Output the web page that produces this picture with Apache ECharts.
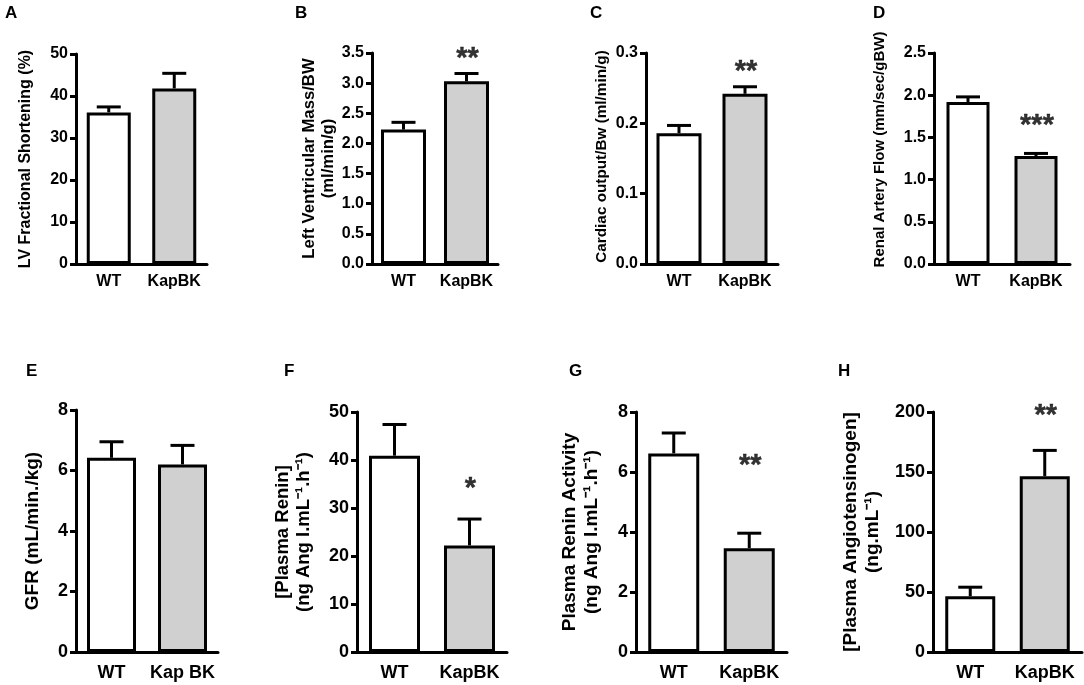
<!DOCTYPE html>
<html style="height: 100%">
<head>
  <meta charset="utf-8">
  <script type="text/javascript" src="https://cdn.jsdelivr.net/npm/echarts@6/dist/echarts.min.js"></script>
</head>
<body style="height: 100%; margin: 0; background: #fff">
  <div id="container" style="width: 1084px; height: 685px"></div>
  <script type="text/javascript">
    // panel data
    var letters = ['A', 'B', 'C', 'D', 'E', 'F', 'G', 'H'];
    var groups = ['WT', 'KapBK'];
    var groupsE = ['WT', 'Kap BK'];
    var yTitles = [
      'LV Fractional Shortening (%)',
      'Left Ventricular Mass/BW\n(ml/min/g)',
      'Cardiac output/Bw (ml/min/g)',
      'Renal Artery Flow (mm/sec/gBW)',
      'GFR (mL/min./kg)',
      '[Plasma Renin]\n(ng Ang I.mL\u207B\u00B9.h\u207B\u00B9)',
      'Plasma Renin Activity\n(ng Ang I.mL\u207B\u00B9.h\u207B\u00B9)',
      '[Plasma Angiotensinogen]\n(ng.mL\u207B\u00B9)'
    ];
    var yMax = [50, 3.5, 0.3, 2.5, 8, 50, 8, 200];
    var yStep = [10, 0.5, 0.1, 0.5, 2, 10, 2, 50];
    var yDecimals = [0, 1, 1, 1, 0, 0, 0, 0];
    var means = [
      [36.1, 41.8], [2.23, 3.03], [0.186, 0.242], [1.92, 1.28],
      [6.42, 6.20], [40.9, 22.2], [6.62, 3.46], [46.5, 146.5]
    ];
    var sems = [
      [1.3, 3.6], [0.12, 0.13], [0.011, 0.010], [0.06, 0.03],
      [0.53, 0.63], [6.5, 5.5], [0.68, 0.50], [7.5, 21.5]
    ];
    var stars = ['', '**', '**', '***', '', '*', '**', '**'];
    var starLevel = [null, 3.47, 0.279, 1.68, null, 34.8, 6.33, 200];

    // layout of each panel (pixels)
    var boxes = [
      { left: 76, top: 54, width: 131, height: 210, bar: 44, gap: 41, fs: 16, ts: 16, pad: 0, lx: 11, ly: 14 },
      { left: 372, top: 53, width: 126, height: 211, bar: 45, gap: 30, fs: 16, ts: 16.7, pad: 0, lx: 301, ly: 14 },
      { left: 646, top: 53, width: 132, height: 211, bar: 45, gap: 35, fs: 16, ts: 15.3, pad: 4, lx: 596, ly: 14 },
      { left: 934, top: 53, width: 136, height: 211, bar: 43, gap: 46, fs: 16, ts: 15, pad: 18, lx: 879, ly: 14 },
      { left: 76, top: 410, width: 142, height: 242, bar: 49, gap: 32, fs: 18, ts: 19, pad: 0, lx: 32, ly: 372 },
      { left: 357, top: 412, width: 150, height: 240, bar: 51, gap: 43, fs: 18, ts: 18.5, pad: 0, lx: 290, ly: 372 },
      { left: 636, top: 412, width: 151, height: 240, bar: 51, gap: 33, fs: 18, ts: 19, pad: 0, lx: 575, ly: 372 },
      { left: 933, top: 412, width: 149, height: 240, bar: 50, gap: 49, fs: 18, ts: 19, pad: 0, lx: 844, ly: 372 }
    ];

    var FONT = 'Liberation Sans';
    var capHalf = 12;

    function errItem(params, api) {
      var x = api.value(0), m = api.value(1), s = api.value(2);
      var p0 = api.coord([x, m]);
      var p1 = api.coord([x, m + s]);
      return {
        type: 'group',
        children: [
          { type: 'line', shape: { x1: p0[0], y1: p0[1], x2: p1[0], y2: p1[1] }, style: { stroke: '#000', lineWidth: 3 } },
          { type: 'line', shape: { x1: p1[0] - capHalf, y1: p1[1], x2: p1[0] + capHalf, y2: p1[1] }, style: { stroke: '#000', lineWidth: 3 } }
        ]
      };
    }

    var grid = [], xAxis = [], yAxis = [], series = [], graphic = [];
    letters.forEach(function (L, i) {
      var b = boxes[i];
      grid.push({ left: b.left, top: b.top, width: b.width, height: b.height, containLabel: false });
      xAxis.push({
        gridIndex: i, type: 'category', data: i === 4 ? groupsE : groups,
        axisLine: { lineStyle: { color: '#000', width: 3 } },
        axisTick: { alignWithLabel: true, length: 6, lineStyle: { color: '#000', width: 3 } },
        axisLabel: { interval: 0, color: '#000', fontFamily: FONT, fontWeight: 'bold', fontSize: b.fs, margin: i < 4 ? 10 : 12 }
      });
      yAxis.push({
        gridIndex: i, type: 'value', min: 0, max: yMax[i], interval: yStep[i],
        splitLine: { show: false },
        axisLine: { show: true, lineStyle: { color: '#000', width: 3 } },
        axisTick: { show: true, length: 6, lineStyle: { color: '#000', width: 3 } },
        axisLabel: {
          color: '#000', fontFamily: FONT, fontWeight: 'bold', fontSize: b.fs, margin: 8,
          formatter: (function (d) { return function (v) { return v.toFixed(d); }; })(yDecimals[i])
        },
        name: yTitles[i], nameLocation: 'middle', nameRotate: 90, nameGap: b.gap,
        nameTextStyle: {
          color: '#000', fontFamily: FONT, fontWeight: 'bold', fontSize: b.ts,
          lineHeight: Math.round(b.ts * 1.15), padding: [0, 0, 0, b.pad]
        }
      });
      series.push({
        type: 'bar', xAxisIndex: i, yAxisIndex: i, barWidth: b.bar,
        data: [
          { value: means[i][0], itemStyle: { color: '#fff' } },
          { value: means[i][1], itemStyle: { color: '#d0d0d0' } }
        ],
        itemStyle: { borderColor: '#000', borderWidth: 3 },
        silent: true, animation: false
      });
      series.push({
        type: 'custom', xAxisIndex: i, yAxisIndex: i, renderItem: errItem,
        encode: { x: 0, y: 1 },
        data: [[0, means[i][0], sems[i][0]], [1, means[i][1], sems[i][1]]],
        silent: true, animation: false, z: 3
      });
      if (stars[i]) {
        series.push({
          type: 'scatter', xAxisIndex: i, yAxisIndex: i, symbolSize: 0,
          itemStyle: { color: '#000' },
          data: [[1, starLevel[i]]],
          label: {
            show: true, position: 'inside', offset: [1, 4], formatter: stars[i],
            color: '#000', fontFamily: FONT, fontWeight: 'bold', fontSize: 29,
            textBorderColor: '#000', textBorderWidth: 0.4
          },
          silent: true, animation: false, z: 4
        });
      }
      graphic.push({
        type: 'text', left: b.lx - 6, top: b.ly - 9,
        style: { text: L, fill: '#000', font: 'bold 17px ' + FONT }
      });
    });

    var myChart = echarts.init(document.getElementById('container'));
    myChart.setOption({
      animation: false,
      grid: grid, xAxis: xAxis, yAxis: yAxis, series: series, graphic: graphic
    });
  </script>
</body>
</html>
